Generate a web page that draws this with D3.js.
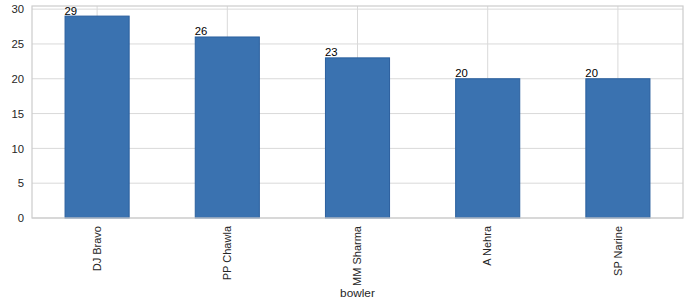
<!DOCTYPE html>
<html><head><meta charset="utf-8">
<script src="https://cdn.jsdelivr.net/npm/d3@7"></script>
<style>body{margin:0;background:#fff}svg{display:block;font-family:"Liberation Sans",Arial,sans-serif}</style>
</head><body><svg id="c" width="700" height="306"></svg>
<script>
const categories = ["DJ Bravo","PP Chawla","MM Sharma","A Nehra","SP Narine"];
const values = [29,26,23,20,20];
const yTicks = [0,5,10,15,20,25,30];
const xLabel = "bowler";

const svg = d3.select("#c");
const m = {l:32, r:17, t:6, b:88};
const W = 700, H = 306;
const x = d3.scaleBand().domain(categories).range([m.l, W-m.r]).paddingInner(0.5).paddingOuter(0.25);
const y = d3.scaleLinear().domain([0, 30.45]).range([H-m.b, m.t]);
const grid = "#d9d9d9", txt = "#262626";

// grid
svg.append("g").selectAll("line").data(yTicks).join("line")
  .attr("x1", m.l).attr("x2", W-m.r).attr("y1", d=>y(d)).attr("y2", d=>y(d))
  .attr("stroke", grid).attr("stroke-width", 1);
svg.append("g").selectAll("line").data(categories).join("line")
  .attr("y1", m.t).attr("y2", H-m.b).attr("x1", d=>x(d)+x.bandwidth()/2).attr("x2", d=>x(d)+x.bandwidth()/2)
  .attr("stroke", grid).attr("stroke-width", 1);

// bars
svg.append("g").selectAll("rect").data(values).join("rect")
  .attr("x", (d,i)=>x(categories[i])+0.5).attr("width", x.bandwidth()-1)
  .attr("y", d=>y(d)).attr("height", d=>y(0)-y(d))
  .attr("fill", "#3a72b0").attr("stroke", "#2a5f9e").attr("stroke-width", 1);

// frame
svg.append("rect").attr("x", m.l).attr("y", m.t).attr("width", W-m.r-m.l).attr("height", H-m.b-m.t)
  .attr("fill","none").attr("stroke","#cccccc").attr("stroke-width",1.2);

// value labels
svg.append("g").selectAll("text").data(values).join("text")
  .attr("x", (d,i)=>x(categories[i])).attr("y", d=>y(d)-1.5)
  .attr("font-size", 11.3).attr("fill", "#000").text(d=>d);

// y axis
const ya = svg.append("g").attr("transform", `translate(${m.l},0)`)
  .call(d3.axisLeft(y).tickValues(yTicks).tickSize(0).tickPadding(8));
ya.attr("font-family", null).attr("font-size", null);
ya.select(".domain").remove();
ya.selectAll("text").attr("font-size", 11.3).attr("fill", txt);

// x axis
const xa = svg.append("g").attr("transform", `translate(0,${H-m.b})`)
  .call(d3.axisBottom(x).tickSize(0).tickPadding(0));
xa.attr("font-family", null).attr("font-size", null);
xa.select(".domain").remove();
xa.selectAll("text").attr("font-size", 11).attr("fill", txt)
  .attr("text-anchor","end").attr("dy", null)
  .attr("transform","translate(0,8) rotate(-90)").attr("x", 0).attr("y", 3.7);

svg.append("text").attr("x", (m.l+W-m.r)/2).attr("y", 297).attr("text-anchor","middle")
  .attr("font-size", 11.8).attr("fill", txt).text(xLabel);
</script></body></html>
